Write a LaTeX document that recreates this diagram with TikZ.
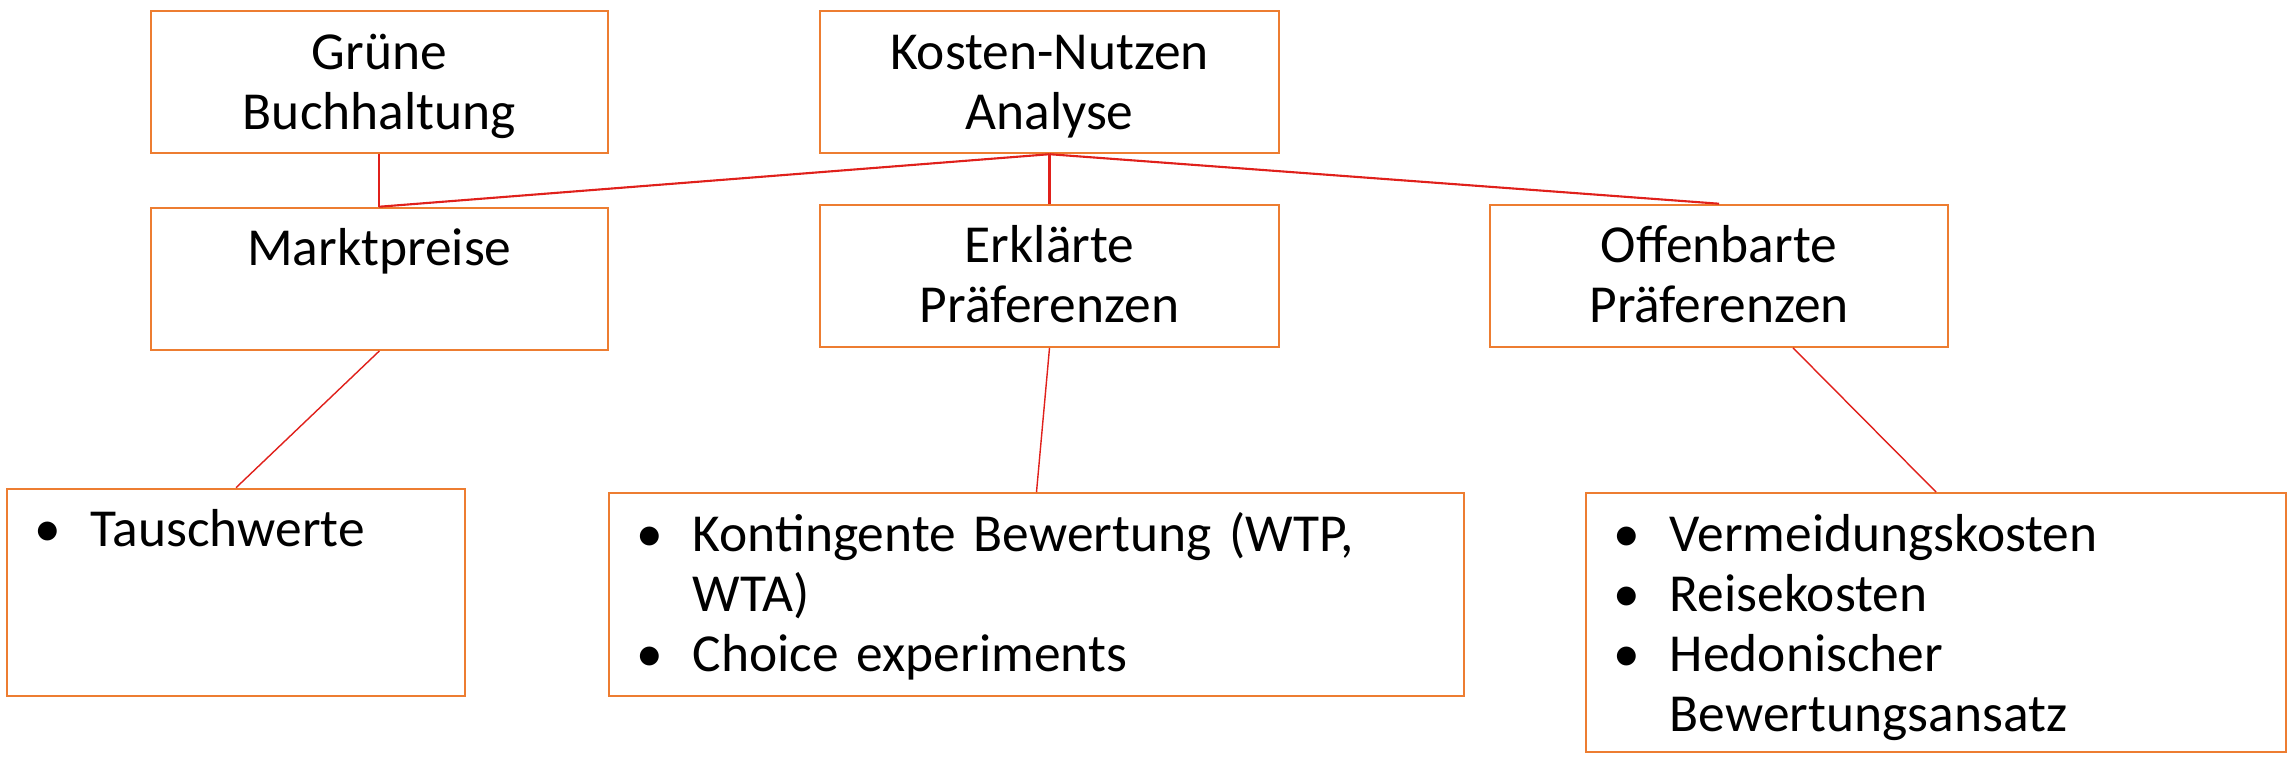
\documentclass[tikz,border=0pt]{standalone}
\usepackage{fontspec}
\setmainfont[WordSpace=0.85]{Carlito}
\usetikzlibrary{positioning}

\definecolor{boxorange}{HTML}{ED7D31}
\definecolor{linkred}{HTML}{E0201B}

\newcommand{\bulletitem}[1]{\noindent\raggedright\hangindent=0.56cm\relax\hangafter=1\relax\hbox to 0.56cm{\textbullet\hfil}#1\par}

\begin{document}
\begin{tikzpicture}[
    x=0.01cm, y=-0.01cm,
    box/.style={draw=boxorange,line width=0.6pt,fill=white,anchor=north,inner ysep=0pt,
        text height=0.58cm,font=\fontsize{15.2pt}{17.07pt}\selectfont},
    titlebox/.style={box,align=center,inner xsep=0.1cm},
    listbox/.style={box,align=left,inner xsep=0.28cm},
    link/.style={linkred,line width=0.6pt},
    thinlink/.style={linkred,line width=0.4pt}
]
    \useasboundingbox[fill=white] (0,0) rectangle (2292,756);

    % upper row
    \node[titlebox,text width=4.37cm,minimum width=4.57cm,text depth=0.84cm] (gruene) at (379.4,10) {Grüne\\Buchhaltung};
    \node[titlebox,text width=4.39cm,minimum width=4.59cm,text depth=0.84cm] (kosten) at (1049.5,10) {Kosten-Nutzen\\Analyse};

    % methods
    \node[titlebox,text width=4.37cm,minimum width=4.57cm,text depth=0.84cm] (markt) at (379.4,206.7) {Marktpreise};
    \node[titlebox,text width=4.39cm,minimum width=4.59cm,text depth=0.84cm] (erklaert) at (1049.5,203.7) {Erklärte\\Präferenzen};
    \node[titlebox,text width=4.38cm,minimum width=4.58cm,text depth=0.84cm] (offenbart) at (1719,203.7) {Offenbarte\\Präferenzen};

    % lists
    \node[listbox,text width=4.02cm,minimum width=4.58cm,text depth=1.49cm] (tausch) at (236,487.7) {%
        \bulletitem{Tauschwerte}};
    \node[listbox,text width=7.99cm,minimum width=8.55cm,text depth=1.45cm] (kontingent) at (1036.5,492) {%
        \bulletitem{Kontingente Bewertung (WTP,\newline WTA)}%
        \bulletitem{Choice experiments}};
    \node[listbox,text width=6.44cm,minimum width=7.00cm,text depth=2.01cm] (vermeid) at (1936,492) {%
        \bulletitem{Vermeidungskosten}%
        \bulletitem{Reisekosten}%
        \bulletitem{Hedonischer\newline Bewertungsansatz}};

    % connectors
    \draw[link] (gruene.south) -- (markt.north);
    \draw[link] (kosten.south) -- (markt.north);
    \draw[link] (kosten.south) -- (erklaert.north);
    \draw[link] (kosten.south) -- (offenbart.north);
    \draw[thinlink] (markt.south) -- (tausch.north);
    \draw[thinlink] (erklaert.south) -- (kontingent.north);
    \draw[thinlink] ([xshift=0.74cm]offenbart.south) -- (vermeid.north);
\end{tikzpicture}
\end{document}
